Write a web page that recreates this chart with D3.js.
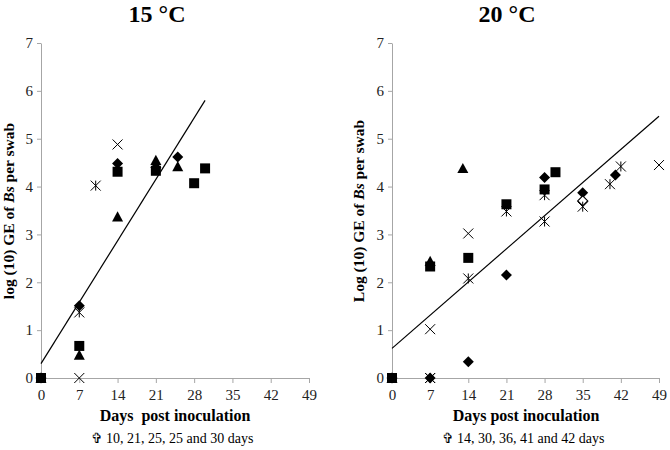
<!DOCTYPE html>
<html lang="en">
<head>
<meta charset="UTF-8">
<title>Bs per swab</title>
<script src="https://cdn.jsdelivr.net/npm/d3@7"></script>
<style>
  body { margin: 0; background: #fff; }
  svg text { font-family: "Liberation Serif", "Times New Roman", serif; fill: #000; }
  .axis path, .axis line { stroke: #a6a6a6; }
  .axis text { font-size: 15px; fill: #222; }
  .trend { fill: none; stroke: #000; stroke-width: 1.2px; }
</style>
</head>
<body>
<script>
// tick values (days / log units)
var dayTicks = [0, 7, 14, 21, 28, 35, 42, 49];
var logTicks = [0, 1, 2, 3, 4, 5, 6, 7];

// 15 °C : [day, log10 GE]
var diamond15 = [[0, 0], [7, 1.51], [14, 4.48], [21, 4.4], [25, 4.62]];
var square15 = [[0, 0], [7, 0.67], [14, 4.31], [21, 4.33], [28, 4.07], [30, 4.38]];
var triangle15 = [[0, 0], [7, 0.48], [14, 3.37], [21, 4.55], [25, 4.42]];
var cross15 = [[7, 0], [14, 4.88]];
var star15 = [[7, 1.37], [10, 4.02]];
var trend15 = [[0, 0.3], [30, 5.8]];

// 20 °C
var diamond20 = [[0, 0], [7, 0], [14, 0.34], [21, 2.15], [28, 4.19], [35, 3.87], [41, 4.24]];
var square20 = [[0, 0], [7, 2.33], [14, 2.51], [21, 3.63], [28, 3.94], [30, 4.3]];
var triangle20 = [[0, 0], [7, 2.44], [13, 4.38]];
var cross20 = [[7, 0], [7, 1.02], [14, 3.02], [49, 4.45]];
var star20 = [[7, 0], [14, 2.08], [21, 3.48], [28, 3.82], [28, 3.27], [35, 3.58], [40, 4.05], [42, 4.42]];
var openDiamond20 = [[35, 3.7]];
var trend20 = [[0, 0.62], [49, 5.47]];

var serif = "'Liberation Serif', 'Times New Roman', serif";

var svg = d3.select("body").append("svg")
  .attr("width", 670)
  .attr("height", 450);

// marker shapes, s = half size
function markerPath(type, s) {
  var p = d3.path();
  if (type == "square") {
    p.rect(-s, -s, 2 * s, 2 * s);
  } else if (type == "diamond" || type == "open") {
    p.moveTo(0, -s); p.lineTo(s, 0); p.lineTo(0, s); p.lineTo(-s, 0); p.closePath();
  } else if (type == "triangle") {
    p.moveTo(0, -s); p.lineTo(s, s * 0.85); p.lineTo(-s, s * 0.85); p.closePath();
  } else if (type == "cross") {
    p.moveTo(-s, -s); p.lineTo(s, s); p.moveTo(s, -s); p.lineTo(-s, s);
  } else if (type == "star") {
    p.moveTo(-s, -s); p.lineTo(s, s); p.moveTo(s, -s); p.lineTo(-s, s);
    p.moveTo(0, -s); p.lineTo(0, s);
  }
  return p.toString();
}

function panel(opt) {
  var x = d3.scaleLinear().domain([0, 49]).range([opt.left, opt.right]);
  var y = d3.scaleLinear().domain([0, 7]).range([378, 43]);

  var g = svg.append("g");

  g.append("text")
    .attr("x", opt.titleX).attr("y", 22)
    .attr("text-anchor", "middle")
    .style("font-size", "24px").style("font-weight", "bold")
    .text(opt.title);

  g.append("g").attr("class", "axis")
    .attr("transform", "translate(0,378)")
    .call(d3.axisBottom(x).tickValues(dayTicks).tickFormat(d3.format("d"))
      .tickSize(5).tickPadding(6).tickSizeOuter(0))
    .attr("font-family", serif).attr("font-size", 15);

  g.append("g").attr("class", "axis")
    .attr("transform", "translate(" + opt.left + ",0)")
    .call(d3.axisLeft(y).tickValues(logTicks).tickFormat(d3.format("d"))
      .tickSize(4).tickPadding(4).tickSizeOuter(0))
    .attr("font-family", serif).attr("font-size", 15);

  // y label with italic Bs
  var yl = g.append("text")
    .attr("transform", "translate(" + opt.ylabX + ",211) rotate(-90)")
    .attr("text-anchor", "middle")
    .style("font-size", "15.5px").style("font-weight", "bold");
  yl.append("tspan").text(opt.ylab + " GE of ");
  yl.append("tspan").style("font-style", "italic").text("Bs");
  yl.append("tspan").text(" per swab");

  g.append("text")
    .attr("x", opt.xlabX).attr("y", 421)
    .attr("text-anchor", "middle")
    .style("font-size", "16px").style("font-weight", "bold")
    .style("white-space", "pre")
    .text(opt.xlab);

  g.append("text")
    .attr("x", opt.noteX).attr("y", 443)
    .attr("text-anchor", "middle")
    .style("font-size", "14px")
    .text(opt.note);

  g.append("path")
    .datum(opt.trend)
    .attr("class", "trend")
    .attr("d", d3.line().x(function(d) { return x(d[0]); }).y(function(d) { return y(d[1]); }));

  opt.series.forEach(function(s) {
    g.selectAll(null)
      .data(s.data)
      .enter().append("path")
      .attr("transform", function(d) { return "translate(" + x(d[0]) + "," + y(d[1]) + ")"; })
      .attr("d", markerPath(s.type, s.size))
      .attr("fill", s.type == "cross" || s.type == "star" ? "none" : (s.type == "open" ? "#fff" : "#000"))
      .attr("stroke", "#000")
      .attr("stroke-width", s.type == "cross" || s.type == "star" ? 1 : (s.type == "open" ? 1.2 : 0));
  });
}

panel({
  left: 41, right: 309, title: "15 °C", titleX: 157,
  ylab: "log (10)", ylabX: 14,
  xlab: "Days  post inoculation", xlabX: 175,
  note: "\u271E 10, 21, 25, 25 and 30 days", noteX: 172,
  trend: trend15,
  series: [
    {type: "triangle", size: 5.5, data: triangle15},
    {type: "diamond", size: 5.5, data: diamond15},
    {type: "square", size: 5, data: square15},
    {type: "cross", size: 5, data: cross15},
    {type: "star", size: 5, data: star15}
  ]
});

panel({
  left: 392, right: 659, title: "20 °C", titleX: 507,
  ylab: "Log (10)", ylabX: 364,
  xlab: "Days post inoculation", xlabX: 526,
  note: "\u271E 14, 30, 36, 41 and 42 days", noteX: 523,
  trend: trend20,
  series: [
    {type: "triangle", size: 5.5, data: triangle20},
    {type: "diamond", size: 5.5, data: diamond20},
    {type: "square", size: 5, data: square20},
    {type: "open", size: 5, data: openDiamond20},
    {type: "cross", size: 5, data: cross20},
    {type: "star", size: 5, data: star20}
  ]
});
</script>
</body>
</html>
